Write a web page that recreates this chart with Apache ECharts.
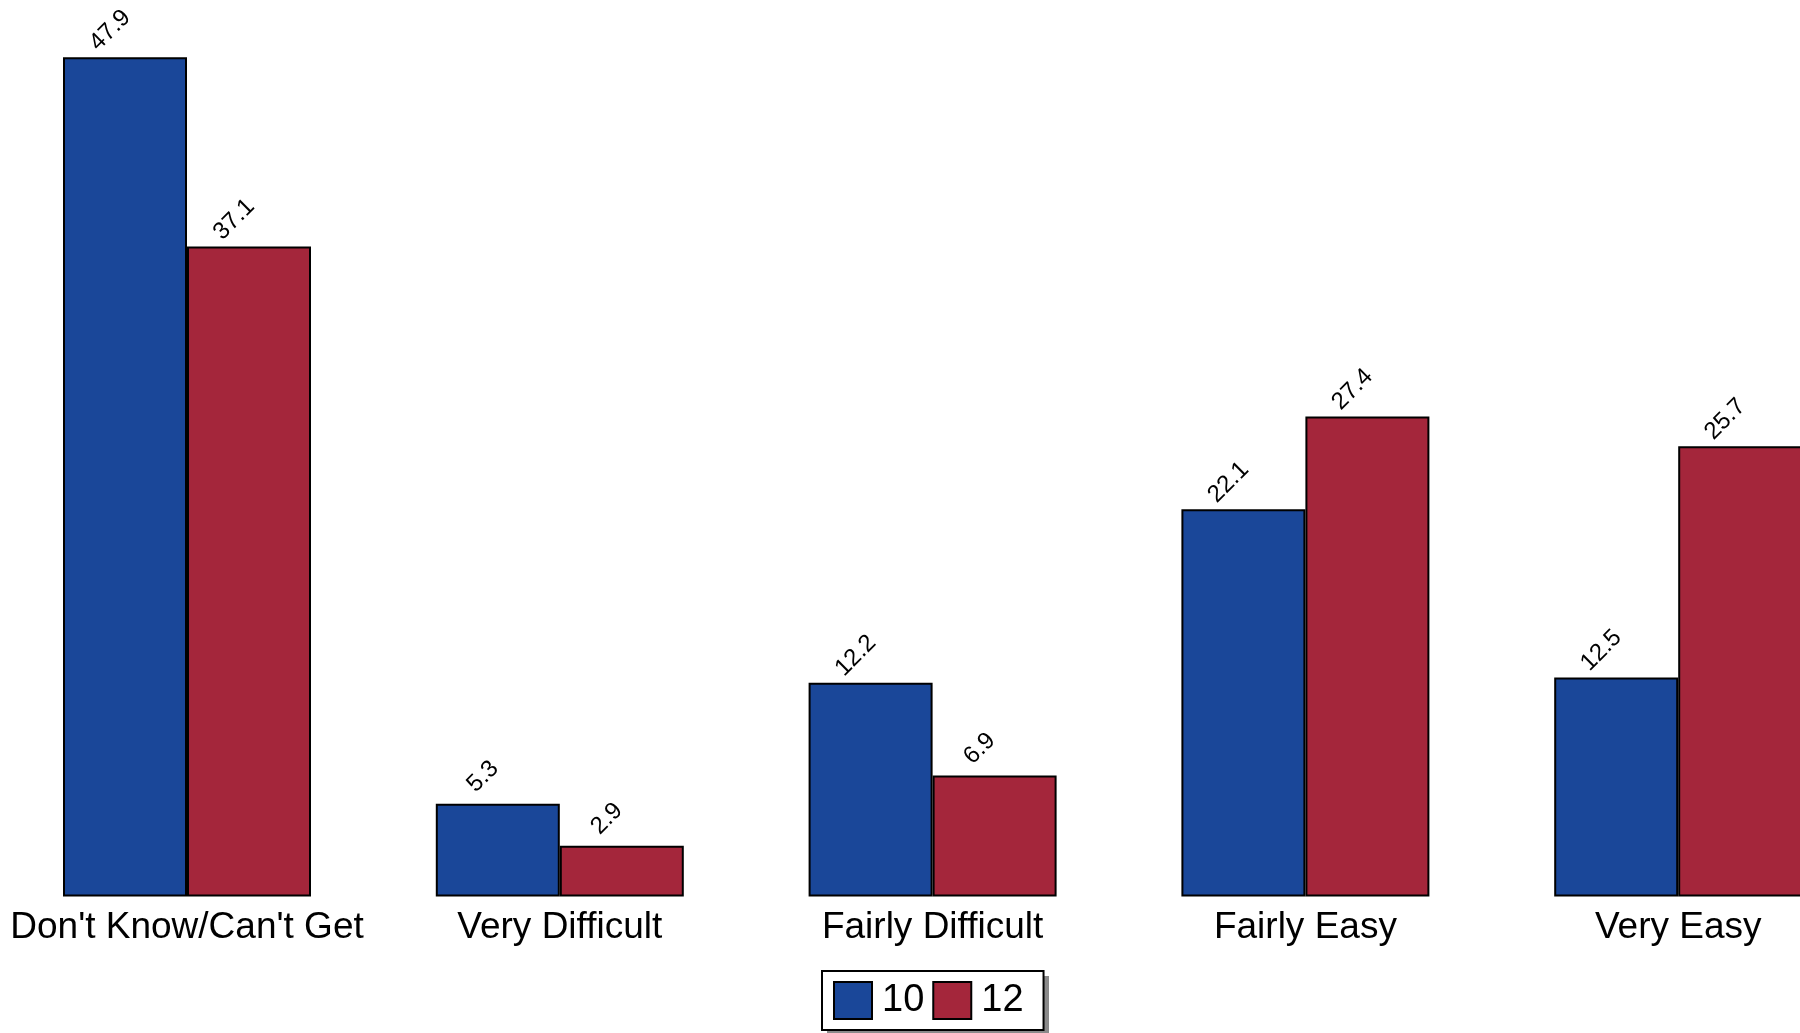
<!DOCTYPE html>
<html>
<head>
<meta charset="utf-8">
<script src="https://cdn.jsdelivr.net/npm/echarts@6/dist/echarts.min.js"></script>
<style>
html,body{margin:0;padding:0;background:#fff;}
#chart{width:1800px;height:1033px;}
</style>
</head>
<body>
<div id="chart"></div>
<script>
const categories = ["Don't Know/Can't Get", "Very Difficult", "Fairly Difficult", "Fairly Easy", "Very Easy"];
const seriesNames = ["10", "12"];
const values10 = [47.9, 5.3, 12.2, 22.1, 12.5];
const values12 = [37.1, 2.9, 6.9, 27.4, 25.7];

const colors = ['#1a4799', '#a4263b'];
const font = 'Liberation Sans, Arial, Helvetica, sans-serif';

const chart = echarts.init(document.getElementById('chart'), null, {renderer: 'canvas'});

function makeSeries(name, data, color) {
  return {
    name: name,
    type: 'bar',
    data: data,
    barWidth: 124,
    barGap: '0%',
    itemStyle: {color: color, borderColor: '#000', borderWidth: 2},
    label: {
      show: true,
      position: ['38%', -27],
      rotate: 45,
      align: 'center',
      verticalAlign: 'middle',
      color: '#000',
      fontFamily: font,
      fontSize: 24,
      formatter: function (p) { return p.value.toFixed(1); }
    }
  };
}

chart.setOption({
  animation: false,
  backgroundColor: '#fff',
  grid: {left: 0.6, width: 1864, top: 20.5, bottom: 136.5, containLabel: false, outerBoundsMode: 'none'},
  xAxis: {
    type: 'category',
    data: categories,
    axisLine: {show: false},
    axisTick: {show: false},
    axisLabel: {color: '#000', fontFamily: font, fontSize: 37, margin: 13, interval: 0}
  },
  yAxis: {
    type: 'value',
    min: 0,
    max: 50,
    show: false,
    splitLine: {show: false}
  },
  graphic: [{
    type: 'rect',
    z: 0,
    silent: true,
    shape: {x: 827, y: 976, width: 222, height: 60},
    style: {fill: '#8a8a8a'}
  }],
  legend: {
    data: seriesNames,
    icon: 'rect',
    left: 822,
    top: 971,
    z: 10,
    orient: 'horizontal',
    itemWidth: 38,
    itemHeight: 37,
    itemGap: 8,
    padding: [10, 20, 10, 11],
    borderColor: '#000',
    borderWidth: 2,
    backgroundColor: '#fff',
    textStyle: {color: '#000', fontFamily: font, fontSize: 38, lineHeight: 31, padding: [6, 0, 0, 5]}
  },
  series: [
    makeSeries(seriesNames[0], values10, colors[0]),
    makeSeries(seriesNames[1], values12, colors[1])
  ]
});
</script>
</body>
</html>
